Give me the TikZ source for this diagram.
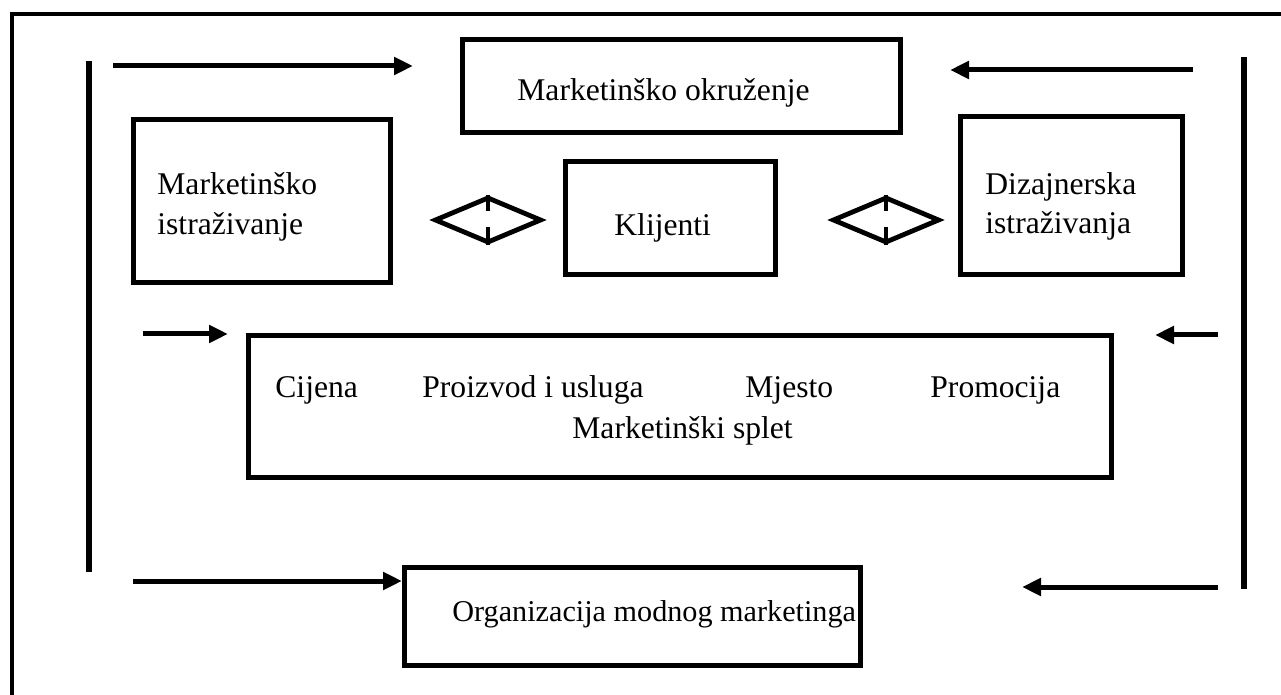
\documentclass[tikz,border=0pt]{standalone}
\usepackage{fontspec}
\setmainfont{Liberation Serif}
\usetikzlibrary{arrows.meta,fit,shapes.geometric}
\tikzset{
    box/.style={draw, line width=2.5pt, inner sep=0pt},
    txt/.style={anchor=base west, inner sep=0pt, font=\fontsize{15.8}{20}\selectfont},
    arr/.style={line width=2.5pt, -{Triangle[length=9.5pt,width=8.5pt]}},
    rhomb/.style={draw, diamond, line width=2.4pt, inner sep=0pt, minimum width=53.5pt, minimum height=23pt}
}
\begin{document}
\begin{tikzpicture}[x=0.5pt,y=-0.5pt]
                \useasboundingbox (0,0) rectangle (1281,695);
                % frame
                \draw[line width=2.3pt] (12,700) -- (12,14) -- (1290,14);
                \coordinate (L1) at (89,61);
                \coordinate (L2) at (89,572);
                \coordinate (R1) at (1244,57);
                \coordinate (R2) at (1244,589);
                \draw[line width=2.8pt] (L1) -- (L2);
                \draw[line width=2.8pt] (R1) -- (R2);
                % boxes
                \node[box, fit={(462,40) (900,133)}] (okr) {};
                \node[box, fit={(133,120) (390,283)}] (istr) {};
                \node[box, fit={(565,162) (775,275)}] (klij) {};
                \node[box, fit={(960,117) (1182,275)}] (diz) {};
                \node[box, fit={(248,336) (1111,478)}] (splet) {};
                \node[box, fit={(404,567) (860,665)}] (org) {};
                % texts
                \node[txt] (t1) at (517,101) {Marketinško okruženje};
                \node[txt] (t2) at (157,195) {Marketinško};
                \node[txt] (t3) at (157,235) {istraživanje};
                \node[txt] (t4) at (614,236) {Klijenti};
                \node[txt] (t5) at (985,195) {Dizajnerska};
                \node[txt] (t6) at (985,234) {istraživanja};
                \node[txt] (t7) at (275,398) {Cijena};
                \node[txt] (t8) at (422,398) {Proizvod i usluga};
                \node[txt] (t9) at (745,398) {Mjesto};
                \node[txt] (t10) at (930,398) {Promocija};
                \node[txt] (t11) at (572,438) {Marketinški splet};
                \node[txt, font=\fontsize{15.1}{20}\selectfont] (t12) at (452,621) {Organizacija modnog marketinga};
                % diamonds
                \node[rhomb] (dl) at (488,220) {};
                \node[rhomb] (dr) at (886,220) {};
                \foreach \d in {dl,dr} {
                    \draw[line width=2.2pt] (\d.north) -- ++(0,16);
                    \draw[line width=2.2pt] (\d.south) -- ++(0,-18);
                }
                % arrows
                \coordinate (a1) at (113,66);   \coordinate (b1) at (413,66);
                \coordinate (a2) at (1193,70);  \coordinate (b2) at (950,70);
                \coordinate (a3) at (143,334);  \coordinate (b3) at (228,334);
                \coordinate (a4) at (1218,335); \coordinate (b4) at (1155,335);
                \coordinate (a5) at (133,581);  \coordinate (b5) at (402,581);
                \coordinate (a6) at (1218,587); \coordinate (b6) at (1022,587);
                \foreach \p in {1,...,6} {
                    \draw[arr] (a\p) -- (b\p);
                }
            \end{tikzpicture}
\end{document}
